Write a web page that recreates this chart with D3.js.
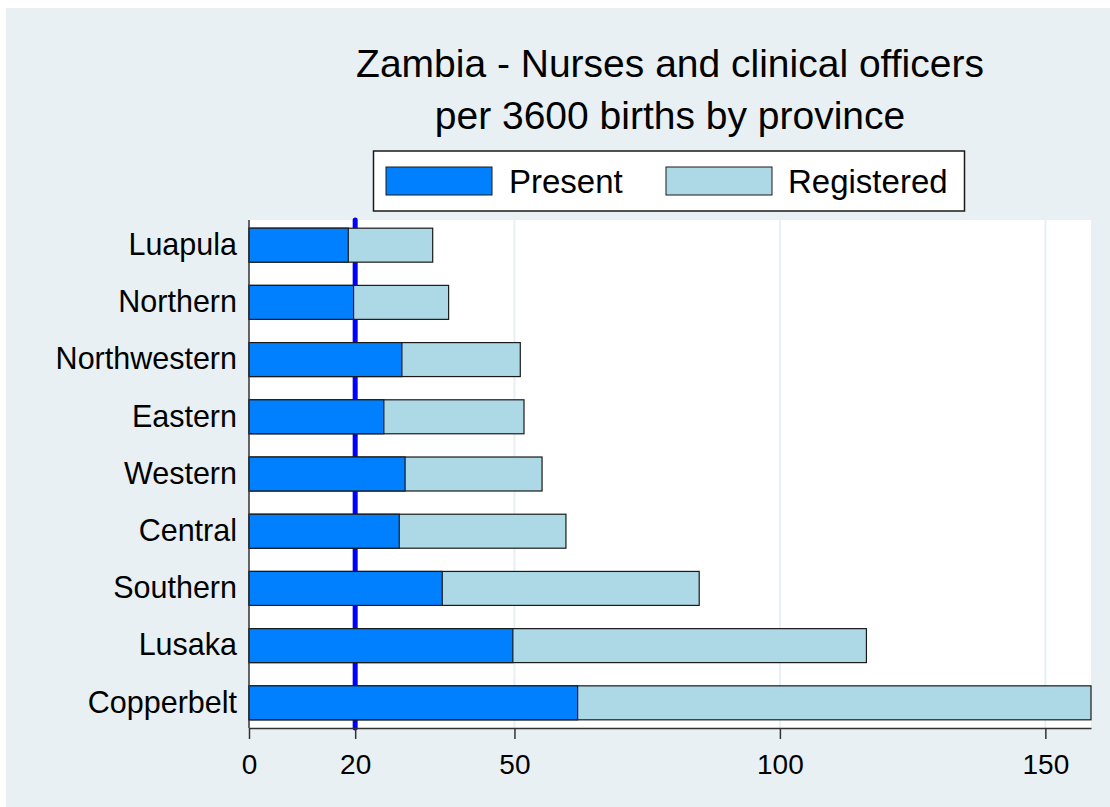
<!DOCTYPE html>
<html>
<head>
<meta charset="utf-8">
<script src="https://cdn.jsdelivr.net/npm/d3@7"></script>
<style>
  html, body { margin: 0; padding: 0; background: #ffffff; }
  svg { display: block; font-family: "Liberation Sans", Arial, sans-serif; }
</style>
</head>
<body>
<svg id="chart" width="1110" height="807"></svg>
<script>
// Provinces, top to bottom
const provinces = ["Luapula", "Northern", "Northwestern", "Eastern", "Western",
                   "Central", "Southern", "Lusaka", "Copperbelt"];
// Nurses and clinical officers per 3600 births
const present    = [18.7, 19.7, 28.8, 25.4, 29.4, 28.3, 36.4, 49.7, 61.9];
const registered = [34.6, 37.6, 51.1, 51.8, 55.2, 59.7, 84.8, 116.3, 158.6];
const xTicks = [0, 20, 50, 100, 150];
const gridValues = [50, 100, 150];
const referenceValue = 20;
const titleLines = ["Zambia - Nurses and clinical officers", "per 3600 births by province"];
const seriesNames = ["Present", "Registered"];

const colors = { present: "#0080ff", registered: "#add8e6" };

const svg = d3.select("#chart");

// background panel
svg.append("rect").attr("x", 6).attr("y", 8).attr("width", 1104).attr("height", 799)
  .attr("fill", "#e8f0f3");

const plot = { left: 249, right: 1091, top: 220, bottom: 728 };

// plot region
svg.append("rect")
  .attr("x", plot.left).attr("y", plot.top)
  .attr("width", plot.right - plot.left).attr("height", plot.bottom - plot.top)
  .attr("fill", "#ffffff");

const x = d3.scaleLinear().domain([0, d3.max(registered)]).range([plot.left, plot.right]);
const y = d3.scaleBand().domain(provinces).range([plot.top, plot.bottom])
  .paddingInner(0.406).paddingOuter(0.143);

// vertical grid
svg.append("g").selectAll("line").data(gridValues).join("line")
  .attr("x1", d => x(d)).attr("x2", d => x(d))
  .attr("y1", plot.top).attr("y2", plot.bottom)
  .attr("stroke", "#e8f0f3").attr("stroke-width", 2);

// reference line at 20
svg.append("line")
  .attr("x1", x(referenceValue)).attr("x2", x(referenceValue))
  .attr("y1", plot.top).attr("y2", plot.bottom)
  .attr("stroke", "#0000ff").attr("stroke-width", 5).attr("stroke-linecap", "round");

// bars: registered (full length) then present on top
const rows = provinces.map((p, i) => ({ p, present: present[i], registered: registered[i] }));
const bars = svg.append("g");
bars.selectAll("rect.reg").data(rows).join("rect").attr("class", "reg")
  .attr("x", x(0)).attr("y", d => y(d.p))
  .attr("width", d => x(d.registered) - x(0)).attr("height", y.bandwidth())
  .attr("fill", colors.registered).attr("stroke", "#1a1a1a").attr("stroke-width", 1.2);
bars.selectAll("rect.pre").data(rows).join("rect").attr("class", "pre")
  .attr("x", x(0)).attr("y", d => y(d.p))
  .attr("width", d => x(d.present) - x(0)).attr("height", y.bandwidth())
  .attr("fill", colors.present).attr("stroke", "#1a1a1a").attr("stroke-width", 1.2);

// x axis
const xAxis = svg.append("g").attr("transform", `translate(0,${plot.bottom})`)
  .call(d3.axisBottom(x).tickValues(xTicks).tickSize(11).tickSizeOuter(0).tickPadding(15));
xAxis.select(".domain").attr("stroke", "#333333").attr("stroke-width", 1.5);
xAxis.selectAll(".tick line").attr("stroke", "#333333").attr("stroke-width", 1.5);
xAxis.selectAll(".tick text").attr("font-size", 28).attr("fill", "#000")
  .attr("font-family", "Liberation Sans, Arial, sans-serif");

// y axis
const yAxis = svg.append("g").attr("transform", `translate(${plot.left},0)`)
  .call(d3.axisLeft(y).tickSize(0).tickPadding(12));
yAxis.select(".domain").attr("stroke", "#333333").attr("stroke-width", 1.5)
  .attr("d", `M0,${plot.top}V${plot.bottom}`);
yAxis.selectAll(".tick text").attr("font-size", 30.5).attr("fill", "#000")
  .attr("font-family", "Liberation Sans, Arial, sans-serif");

// title
svg.append("g").selectAll("text").data(titleLines).join("text")
  .attr("x", 670).attr("y", (d, i) => 77 + i * 52)
  .attr("text-anchor", "middle").attr("font-size", 39).attr("fill", "#000")
  .text(d => d);

// legend
const legend = svg.append("g");
legend.append("rect").attr("x", 373.5).attr("y", 151).attr("width", 591).attr("height", 60)
  .attr("fill", "#ffffff").attr("stroke", "#1a1a1a").attr("stroke-width", 1.5);
const legendItems = [
  { name: seriesNames[0], color: colors.present, sx: 386, tx: 509 },
  { name: seriesNames[1], color: colors.registered, sx: 666, tx: 788 }
];
legendItems.forEach(it => {
  legend.append("rect").attr("x", it.sx).attr("y", 167).attr("width", 106).attr("height", 28)
    .attr("fill", it.color).attr("stroke", "#1a1a1a").attr("stroke-width", 1);
  legend.append("text").attr("x", it.tx).attr("y", 193).attr("font-size", 33)
    .attr("fill", "#000").text(it.name);
});
</script>
</body>
</html>
